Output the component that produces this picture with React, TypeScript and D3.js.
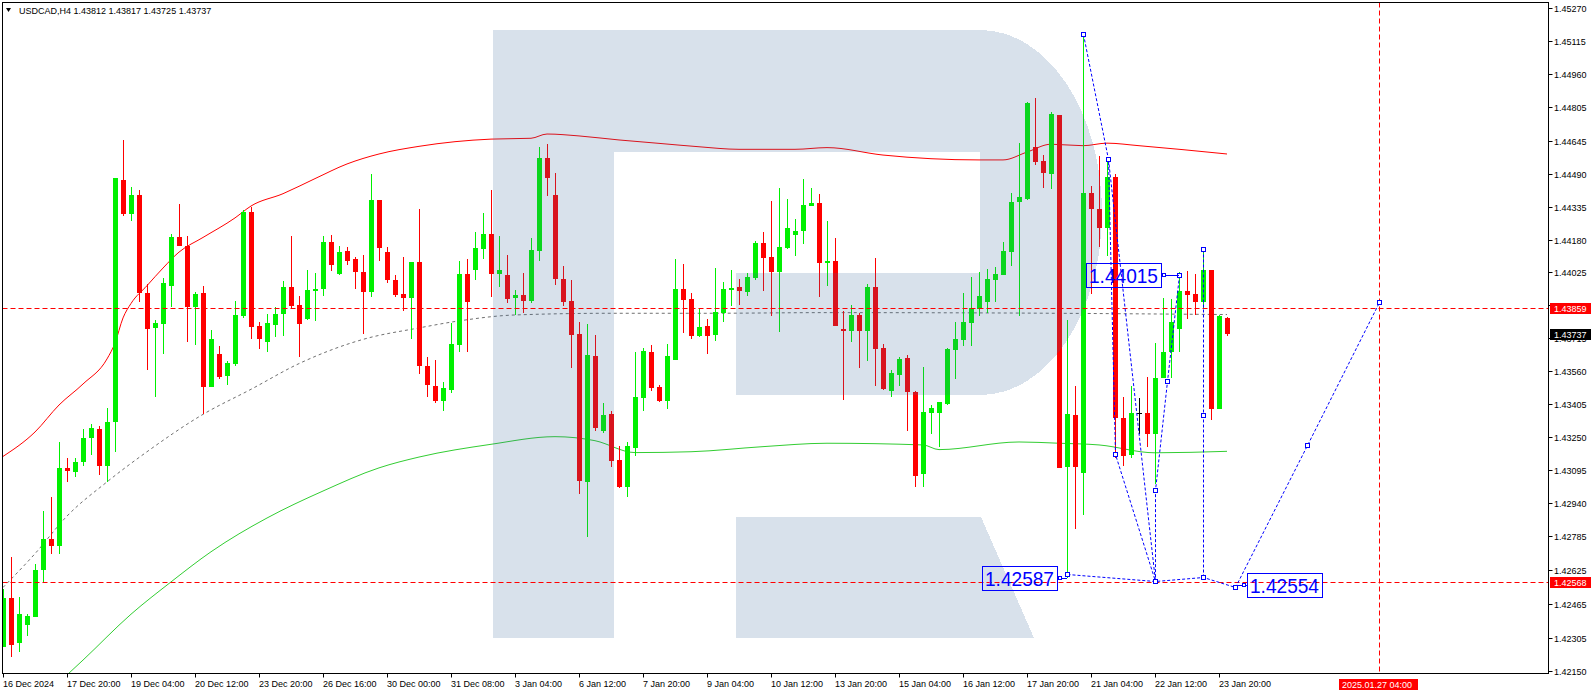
import React from 'react';
import { line, curveMonotoneX, scaleLinear } from 'd3';

// MT4-style H4 candlestick chart, USDCAD, with bands and a dashed forecast.

const W = 1594;
const H = 694;
const plot = { left: 2.5, top: 2.5, right: 1548.5, bottom: 673.5 };

const symbol = 'USDCAD,H4';
const lastQuote = ['1.43812', '1.43817', '1.43725', '1.43737'];

// candle values, index 0 = 16 Dec 2024 12:00, one bar per 4h
const open = [
  1.4226, 1.42491, 1.42281, 1.42365, 1.42403, 1.42625, 1.42772, 1.42738, 1.43105, 1.43085,
  1.43135, 1.43248, 1.43286, 1.43113, 1.43323, 1.44459, 1.44299, 1.44392, 1.43929, 1.43764,
  1.43783, 1.43963, 1.44193, 1.44151, 1.43862, 1.43929, 1.43487, 1.4364, 1.43539, 1.43593,
  1.4382, 1.44311, 1.43773, 1.43697, 1.43778, 1.43828, 1.43958, 1.4387, 1.43808, 1.43939,
  1.43946, 1.44168, 1.44018, 1.44126, 1.44089, 1.44027, 1.43932, 1.44366, 1.44121, 1.43991,
  1.43924, 1.43907, 1.44075, 1.43585, 1.43491, 1.4342, 1.43472, 1.43684, 1.44018, 1.44037,
  1.44136, 1.44206, 1.44018, 1.44013, 1.43906, 1.43919, 1.43891, 1.44126, 1.44564, 1.4439,
  1.43994, 1.43891, 1.43735, 1.4304, 1.43632, 1.43279, 1.43359, 1.43142, 1.43017, 1.432,
  1.43436, 1.43649, 1.43487, 1.4342, 1.43613, 1.43947, 1.439, 1.43728, 1.43773, 1.4373,
  1.43833, 1.43942, 1.43955, 1.43932, 1.43998, 1.44165, 1.441, 1.44026, 1.44142, 1.44202,
  1.4422, 1.4434, 1.44351, 1.4407, 1.44079, 1.43757, 1.43751, 1.43826, 1.43751, 1.43956,
  1.4367, 1.43468, 1.43544, 1.43624, 1.4346, 1.43078, 1.43364, 1.43364, 1.43406, 1.43661,
  1.43708, 1.43788, 1.43855, 1.43885, 1.43989, 1.44015, 1.44121, 1.44356, 1.44373, 1.44617,
  1.44549, 1.4449, 1.44765, 1.43111, 1.43355, 1.43083, 1.44398, 1.44322, 1.44233, 1.44474,
  1.43338, 1.43165, 1.43364, 1.43364, 1.43266, 1.43527, 1.4365, 1.43759, 1.43936, 1.43922,
  1.43885, 1.44036, 1.4338, 1.43812,
];
const high = [
  1.42533, 1.42684, 1.42499, 1.42415, 1.42651, 1.42903, 1.4297, 1.43226, 1.43152, 1.43152,
  1.4329, 1.4331, 1.43303, 1.43387, 1.44471, 1.44649, 1.44429, 1.44413, 1.43971, 1.43803,
  1.44, 1.44207, 1.44349, 1.44198, 1.43932, 1.43963, 1.43756, 1.4368, 1.43609, 1.4389,
  1.44319, 1.44333, 1.43794, 1.43831, 1.43862, 1.43984, 1.44198, 1.43912, 1.44037, 1.44023,
  1.44195, 1.44201, 1.4415, 1.44144, 1.44097, 1.44109, 1.44489, 1.44366, 1.44146, 1.44013,
  1.44097, 1.44075, 1.44324, 1.43629, 1.43613, 1.43511, 1.43789, 1.44079, 1.44089, 1.44217,
  1.44307, 1.44413, 1.44197, 1.44107, 1.43943, 1.44024, 1.44189, 1.44618, 1.4463, 1.44495,
  1.44056, 1.43991, 1.43793, 1.43782, 1.43733, 1.43412, 1.43373, 1.43208, 1.43228, 1.43649,
  1.43668, 1.43684, 1.43494, 1.43688, 1.44089, 1.44063, 1.4393, 1.43852, 1.43806, 1.44048,
  1.43982, 1.44037, 1.43994, 1.44024, 1.44173, 1.44217, 1.44363, 1.44424, 1.4437, 1.44278,
  1.44465, 1.44424, 1.44395, 1.44267, 1.44188, 1.43843, 1.43872, 1.43835, 1.43969, 1.44095,
  1.43687, 1.43565, 1.43628, 1.43636, 1.43465, 1.43579, 1.43401, 1.43417, 1.4367, 1.43793,
  1.43927, 1.44003, 1.44028, 1.44042, 1.44053, 1.44168, 1.44398, 1.44634, 1.4483, 1.44847,
  1.44578, 1.4478, 1.44768, 1.43801, 1.4349, 1.45147, 1.44432, 1.44575, 1.44566, 1.4449,
  1.43439, 1.4349, 1.43434, 1.43535, 1.43695, 1.43905, 1.43902, 1.44028, 1.44031, 1.44016,
  1.44129, 1.44036, 1.43826, 1.43817,
];
const low = [
  1.4226, 1.42213, 1.42239, 1.42314, 1.42403, 1.42567, 1.42698, 1.42698, 1.43038, 1.43063,
  1.43113, 1.43164, 1.43071, 1.43038, 1.4318, 1.44291, 1.44269, 1.43887, 1.43567, 1.43438,
  1.43643, 1.43862, 1.44148, 1.43697, 1.43685, 1.43357, 1.43487, 1.43522, 1.43497, 1.43584,
  1.43811, 1.4371, 1.43663, 1.4365, 1.43719, 1.43724, 1.43858, 1.43626, 1.43803, 1.43798,
  1.43912, 1.44033, 1.44013, 1.4406, 1.43949, 1.43736, 1.43909, 1.44077, 1.43976, 1.43909,
  1.43845, 1.43714, 1.43546, 1.4344, 1.43412, 1.43374, 1.43459, 1.43652, 1.43652, 1.4399,
  1.44089, 1.43911, 1.43958, 1.43883, 1.43825, 1.43836, 1.43883, 1.44079, 1.44385, 1.43966,
  1.43867, 1.43574, 1.42982, 1.4278, 1.43279, 1.43268, 1.43111, 1.43009, 1.42969, 1.43161,
  1.43374, 1.43467, 1.43414, 1.43382, 1.43613, 1.43739, 1.43712, 1.43723, 1.43641, 1.43704,
  1.43793, 1.43867, 1.43872, 1.43914, 1.4399, 1.43938, 1.4382, 1.43746, 1.44134, 1.44103,
  1.44159, 1.4434, 1.43911, 1.43961, 1.43771, 1.43423, 1.43697, 1.43574, 1.43608, 1.4349,
  1.43473, 1.43439, 1.4349, 1.4328, 1.43014, 1.43014, 1.43263, 1.43204, 1.43401, 1.43523,
  1.43678, 1.43678, 1.43818, 1.43834, 1.43885, 1.44015, 1.44057, 1.43818, 1.44368, 1.44533,
  1.44423, 1.4442, 1.43103, 1.42587, 1.42817, 1.42884, 1.43925, 1.44144, 1.44104, 1.43153,
  1.43113, 1.43153, 1.43266, 1.43204, 1.43027, 1.43527, 1.43527, 1.4365, 1.43804, 1.43826,
  1.43851, 1.4333, 1.4338, 1.43725,
];
const close = [
  1.42491, 1.42272, 1.42415, 1.42407, 1.42625, 1.42772, 1.42738, 1.43105, 1.43088, 1.43135,
  1.43248, 1.43293, 1.43113, 1.43323, 1.44471, 1.44302, 1.44392, 1.43929, 1.43761, 1.43786,
  1.43976, 1.4419, 1.44148, 1.43862, 1.43924, 1.43487, 1.43714, 1.43534, 1.43598, 1.43825,
  1.44311, 1.43769, 1.4371, 1.43786, 1.43831, 1.43958, 1.43867, 1.43784, 1.43942, 1.43947,
  1.44168, 1.44058, 1.44122, 1.4408, 1.44025, 1.43932, 1.44366, 1.44138, 1.43991, 1.43921,
  1.43907, 1.44075, 1.43584, 1.43495, 1.4342, 1.4348, 1.43688, 1.44018, 1.43888, 1.4414,
  1.44206, 1.44018, 1.44037, 1.439, 1.43919, 1.43891, 1.44131, 1.44564, 1.44472, 1.43994,
  1.43888, 1.43731, 1.43045, 1.43637, 1.43291, 1.43354, 1.43137, 1.43013, 1.43208, 1.43437,
  1.43655, 1.43483, 1.4342, 1.43632, 1.43947, 1.43895, 1.43728, 1.43767, 1.43728, 1.43841,
  1.43947, 1.4395, 1.43938, 1.44002, 1.44165, 1.44095, 1.44026, 1.44147, 1.44236, 1.4422,
  1.44343, 1.44351, 1.44071, 1.44077, 1.43771, 1.43751, 1.43826, 1.43751, 1.43956, 1.43666,
  1.43478, 1.43552, 1.43616, 1.4346, 1.43069, 1.43367, 1.43389, 1.43414, 1.43665, 1.43712,
  1.43793, 1.4386, 1.43915, 1.43994, 1.4402, 1.44126, 1.44356, 1.44381, 1.44824, 1.44546,
  1.44494, 1.44771, 1.43103, 1.4336, 1.43108, 1.44398, 1.44322, 1.44233, 1.44474, 1.43338,
  1.43162, 1.43364, 1.43364, 1.43266, 1.43528, 1.4365, 1.43793, 1.43936, 1.43919, 1.43885,
  1.44036, 1.4338, 1.43818, 1.43737,
];

// band lines, [bar index, price]
const upperBand: [number, number][] = [
  [0, 1.43159], [4, 1.43274], [7, 1.43401], [10, 1.435], [13, 1.43618], [14, 1.43693],
  [15, 1.43811], [16, 1.43879], [18, 1.43963], [20, 1.44046], [22, 1.44121], [25, 1.4419],
  [29, 1.44282], [31, 1.44338], [35, 1.44396], [39, 1.44467], [43, 1.44536], [47, 1.44583],
  [52, 1.44619], [61, 1.44653], [66, 1.44657], [68, 1.44677], [72, 1.44668], [77, 1.44649],
  [82, 1.44633], [87, 1.44617], [92, 1.44605], [99, 1.44605], [103, 1.44613], [110, 1.44578],
  [122, 1.44555], [125, 1.44555], [128, 1.44592], [131, 1.44629], [135, 1.44622],
  [138, 1.44634], [142, 1.44622], [153, 1.44583],
];
const middleBand: [number, number][] = [
  [0, 1.42542], [4, 1.42701], [8, 1.42878], [13, 1.43039], [18, 1.43181], [25, 1.43357],
  [31, 1.43475], [37, 1.43596], [45, 1.4371], [52, 1.43764], [57, 1.43797], [64, 1.43825],
  [76, 1.43833], [88, 1.43833], [103, 1.43836], [120, 1.43835], [153, 1.43827],
];
const lowerBand: [number, number][] = [
  [8, 1.4213], [10, 1.422], [16, 1.42416], [21, 1.42568], [26, 1.4271], [33, 1.42869],
  [40, 1.42996], [47, 1.43105], [52, 1.43156], [61, 1.43216], [69, 1.43252], [74, 1.43233],
  [79, 1.43177], [86, 1.43181], [95, 1.43205], [103, 1.43221], [115, 1.43213], [117, 1.43191],
  [127, 1.43227], [132, 1.43221], [137, 1.43213], [144, 1.43176], [153, 1.43183],
];

// forecast polylines, [bar index, price]
const forecastPaths: [number, number][][] = [
  [[135, 1.45147], [138.1, 1.44561], [139, 1.4317], [144, 1.42574]],
  [[138.1, 1.44561], [144, 1.42574]],
  [[147, 1.44015], [145.5, 1.43515], [144, 1.43003], [144, 1.42574]],
  [[150, 1.44136], [150, 1.43356], [150, 1.42593]],
  [[133, 1.42605], [144, 1.42574], [150, 1.42593], [154, 1.42543], [163, 1.43211], [172, 1.43886]],
];
const forecastLabels: { text: string; at: [number, number]; side: 'left' | 'right'; gap: number }[] = [
  { text: '1.42587', at: [133, 1.42587], side: 'left', gap: 10 },
  { text: '1.44015', at: [147, 1.44015], side: 'left', gap: 18 },
  { text: '1.42554', at: [154, 1.42554], side: 'right', gap: 12 },
];

const timeTicks: [number, string][] = [
  [0, '16 Dec 2024'], [8, '17 Dec 20:00'], [16, '19 Dec 04:00'], [24, '20 Dec 12:00'],
  [32, '23 Dec 20:00'], [40, '26 Dec 16:00'], [48, '30 Dec 00:00'], [56, '31 Dec 08:00'],
  [64, '3 Jan 04:00'], [72, '6 Jan 12:00'], [80, '7 Jan 20:00'], [88, '9 Jan 04:00'],
  [96, '10 Jan 12:00'], [104, '13 Jan 20:00'], [112, '15 Jan 04:00'], [120, '16 Jan 12:00'],
  [128, '17 Jan 20:00'], [136, '21 Jan 04:00'], [144, '22 Jan 12:00'], [152, '23 Jan 20:00'],
];
const priceTicks = [
  '1.45270', '1.45115', '1.44960', '1.44805', '1.44645', '1.44490', '1.44335', '1.44180',
  '1.44025', '1.43870', '1.43715', '1.43560', '1.43405', '1.43250', '1.43095', '1.42940',
  '1.42785', '1.42625', '1.42465', '1.42305', '1.42150',
];
const levelLines = [1.43859, 1.42568];
const bidPrice = 1.43737;
const markerBar = 172;
const markerLabel = '2025.01.27 04:00';

const BULL = '#00f000';
const BEAR = '#ff0000';
const BLUE = '#0000ff';
const FONT = '"Liberation Sans", Arial, sans-serif';

export default function App() {
  const x = scaleLinear().domain([0, 153]).range([3, 1227]);
  const y = scaleLinear().domain([1.4215, 1.45115]).range([670.7, 41]);
  const px = (i: number) => Math.round(x(i));
  const py = (p: number) => Math.round(y(p));

  const band = line<[number, number]>()
    .x((d) => x(d[0]))
    .y((d) => y(d[1]))
    .curve(curveMonotoneX);
  const poly = line<[number, number]>()
    .x((d) => px(d[0]) + 0.5)
    .y((d) => py(d[1]) + 0.5);

  const logoFill = 'rgb(56,102,153)';

  return (
    <svg
      width={W}
      height={H}
      viewBox={`0 0 ${W} ${H}`}
      style={{ position: 'absolute', left: 0, top: 0, background: '#fff', fontFamily: FONT }}
    >
      <defs>
        <clipPath id="plot">
          <rect x={plot.left} y={plot.top} width={plot.right - plot.left} height={plot.bottom - plot.top} />
        </clipPath>
      </defs>
      <rect width={W} height={H} fill="#fff" />

      <g clipPath="url(#plot)">
        {/* bands */}
        <path d={band(upperBand) ?? undefined} fill="none" stroke="#ff0000" strokeWidth={1} />
        <path d={band(middleBand) ?? undefined} fill="none" stroke="#707070" strokeWidth={1} strokeDasharray="3,3" />
        <path d={band(lowerBand) ?? undefined} fill="none" stroke="#32cd32" strokeWidth={1} />

        {/* candles */}
        <g shapeRendering="crispEdges">
          {open.map((o, i) => {
            const c = close[i];
            const col = c > o ? BULL : c < o ? BEAR : '#000';
            const cx = px(i);
            const top = py(Math.max(o, c));
            const bot = py(Math.min(o, c));
            return (
              <g key={i}>
                <rect x={cx} y={py(high[i])} width={1} height={Math.max(1, py(low[i]) - py(high[i]))} fill={col} />
                <rect x={cx - 2} y={top} width={5} height={Math.max(1, bot - top)} fill={col} />
              </g>
            );
          })}
        </g>

        {/* watermark logo */}
        <g fill={logoFill} fillOpacity={0.196} shapeRendering="crispEdges">
          <path d="M493,30 H980 A122,182.5 0 0 1 980,395 H736 V273 H980 V152 H614 V638 H493 Z" />
          <path d="M736,517 H981 L1034,638 H736 Z" />
        </g>

        {/* level lines */}
        {levelLines.map((l) => (
          <line key={l} x1={plot.left} x2={plot.right} y1={py(l) + 0.5} y2={py(l) + 0.5} stroke="#ff0000" strokeDasharray="5,3" />
        ))}
        <line x1={px(markerBar) + 0.5} x2={px(markerBar) + 0.5} y1={plot.top} y2={plot.bottom} stroke="#ff0000" strokeDasharray="5,3" />

        {/* forecast */}
        {forecastPaths.map((p, k) => (
          <g key={k}>
            <path d={poly(p) ?? undefined} fill="none" stroke={BLUE} strokeWidth={1} strokeDasharray="3,2" />
            {p.map((d, j) => (
              <rect key={j} x={px(d[0]) - 1.5} y={py(d[1]) - 1.5} width={4} height={4} fill="#fff" stroke={BLUE} strokeWidth={1} />
            ))}
          </g>
        ))}
        {forecastLabels.map((l) => {
          const ax = px(l.at[0]);
          const ay = py(l.at[1]);
          const bw = 75;
          const bx = l.side === 'left' ? ax - l.gap - bw : ax + l.gap;
          const edge = l.side === 'left' ? bx + bw : bx;
          return (
            <g key={l.text}>
              <line x1={edge} x2={ax} y1={ay + 0.5} y2={ay + 0.5} stroke={BLUE} />
              <rect x={(l.side === 'left' ? edge + 1 : edge - 5) + 0.5} y={ay - 1.5} width={3} height={3} fill="#fff" stroke={BLUE} />
              <rect x={bx + 0.5} y={ay - 11.5} width={bw} height={24} fill="none" stroke={BLUE} />
              <text x={bx + 3} y={ay + 8} fill={BLUE} style={{ fontSize: 21 }} textLength={69} lengthAdjust="spacingAndGlyphs">
                {l.text}
              </text>
            </g>
          );
        })}
      </g>

      {/* header */}
      <path d="M6,8 L11,8 L8.5,12 Z" fill="#000" />
      <text x={19} y={14} style={{ fontSize: 9 }} fill="#000">
        {symbol}  {lastQuote.join(' ')}
      </text>

      {/* frame */}
      <rect x={plot.left} y={plot.top} width={plot.right - plot.left} height={plot.bottom - plot.top} fill="none" stroke="#000" />

      {/* price axis */}
      {priceTicks.map((t) => {
        const ty = py(+t) + 0.5;
        return (
          <g key={t}>
            <line x1={plot.right} x2={plot.right + 4} y1={ty} y2={ty} stroke="#000" />
            <text x={1554} y={ty + 3.5} style={{ fontSize: 9 }} fill="#000">
              {t}
            </text>
          </g>
        );
      })}
      {levelLines.map((l) => (
        <g key={l}>
          <rect x={1550} y={py(l) - 5} width={41} height={11} fill="#ff0000" />
          <text x={1554} y={py(l) + 4} style={{ fontSize: 9 }} fill="#fff">
            {l.toFixed(5)}
          </text>
        </g>
      ))}
      <rect x={1550} y={py(bidPrice) - 5} width={41} height={11} fill="#000" />
      <text x={1554} y={py(bidPrice) + 4} style={{ fontSize: 9 }} fill="#fff">
        {bidPrice.toFixed(5)}
      </text>

      {/* time axis */}
      {timeTicks.map(([i, t]) => (
        <g key={t}>
          <line x1={px(i) + 0.5} x2={px(i) + 0.5} y1={plot.bottom} y2={plot.bottom + 4} stroke="#000" />
          <text x={px(i)} y={687} style={{ fontSize: 9 }} fill="#000">
            {t}
          </text>
        </g>
      ))}
      <rect x={px(markerBar) - 40} y={679} width={79} height={11} fill="#ff0000" />
      <text x={px(markerBar) - 37} y={688} style={{ fontSize: 9 }} fill="#fff">
        {markerLabel}
      </text>
    </svg>
  );
}
